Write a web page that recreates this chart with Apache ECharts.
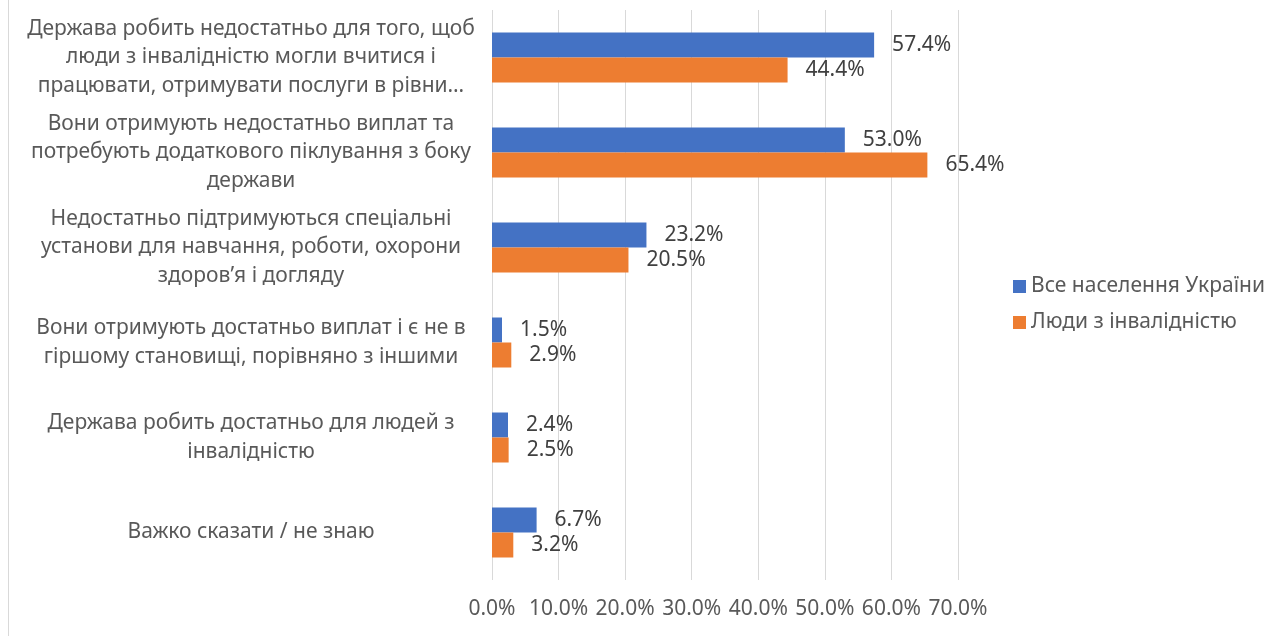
<!DOCTYPE html>
<html lang="uk">
<head>
    <meta charset="UTF-8">
    <title>Bar chart</title>
    <script type="text/javascript" src="https://cdn.jsdelivr.net/npm/echarts@6/dist/echarts.min.js"></script>
    <style>
        html, body { margin: 0; padding: 0; background: #fff; }
        #myChart { width: 1276px; height: 636px; }
    </style>
</head>
<body>
<div id="myChart"></div>

<script type="text/javascript">
    // категорії (з переносами рядків як на оригіналі)
    var categories = [
        "Держава робить недостатньо для того, щоб\nлюди з інвалідністю могли вчитися і\nпрацювати, отримувати послуги в рівни…",
        "Вони отримують недостатньо виплат та\nпотребують додаткового піклування з боку\nдержави",
        "Недостатньо підтримуються спеціальні\nустанови для навчання, роботи, охорони\nздоров’я і догляду",
        "Вони отримують достатньо виплат і є не в\nгіршому становищі, порівняно з іншими",
        "Держава робить достатньо для людей з\nінвалідністю",
        "Важко сказати / не знаю"
    ];
    var seriesNames = ["Все населення України", "Люди з інвалідністю"];
    var allPopulation = [57.4, 53.0, 23.2, 1.5, 2.4, 6.7];
    var disabledPeople = [44.4, 65.4, 20.5, 2.9, 2.5, 3.2];
    var xTicks = { min: 0, max: 70, interval: 10 };

    var textColor = '#595959';
    var font = '"Noto Sans", "Open Sans", sans-serif';
    var fs = 21;

    var myChart = echarts.init(document.getElementById('myChart'));

    function pct(p) {
        return p.value.toFixed(1) + '%';
    }

    myChart.setOption({
        animation: false,
        textStyle: { fontFamily: font },
        graphic: [{
            type: 'line',
            shape: { x1: 8.5, y1: 0, x2: 8.5, y2: 636 },
            style: { stroke: '#d9d9d9', lineWidth: 1 }
        }],
        legend: {
            orient: 'vertical',
            left: 1008,
            top: 271,
            itemWidth: 13,
            itemHeight: 13,
            itemGap: 15,
            icon: 'rect',
            textStyle: { color: textColor, fontSize: fs, fontFamily: font },
            data: seriesNames
        },
        grid: {
            left: 492,
            right: 318,
            top: 10,
            bottom: 56,
            containLabel: false
        },
        xAxis: {
            type: 'value',
            min: xTicks.min,
            max: xTicks.max,
            interval: xTicks.interval,
            axisLine: { show: false },
            axisTick: { show: false },
            splitLine: { lineStyle: { color: '#d9d9d9', width: 1 } },
            axisLabel: {
                color: textColor,
                fontSize: fs,
                margin: 19,
                formatter: function (v) { return v.toFixed(1) + '%'; }
            }
        },
        yAxis: {
            type: 'category',
            inverse: true,
            data: categories,
            axisLine: { show: false },
            axisTick: { show: false },
            axisLabel: {
                color: textColor,
                fontSize: fs,
                lineHeight: 28.5,
                align: 'center',
                padding: [4, 0, 0, 0],
                margin: 241
            }
        },
        series: [{
            name: seriesNames[0],
            type: 'bar',
            data: allPopulation,
            barWidth: 25,
            barGap: '0%',
            itemStyle: { color: '#4472C4' },
            label: {
                show: true,
                position: 'right',
                distance: 18,
                color: '#404040',
                fontSize: fs,
                formatter: pct
            }
        }, {
            name: seriesNames[1],
            type: 'bar',
            data: disabledPeople,
            barWidth: 25,
            itemStyle: { color: '#ED7D31' },
            label: {
                show: true,
                position: 'right',
                distance: 18,
                color: '#404040',
                fontSize: fs,
                formatter: pct
            }
        }]
    });
</script>
</body>
</html>
